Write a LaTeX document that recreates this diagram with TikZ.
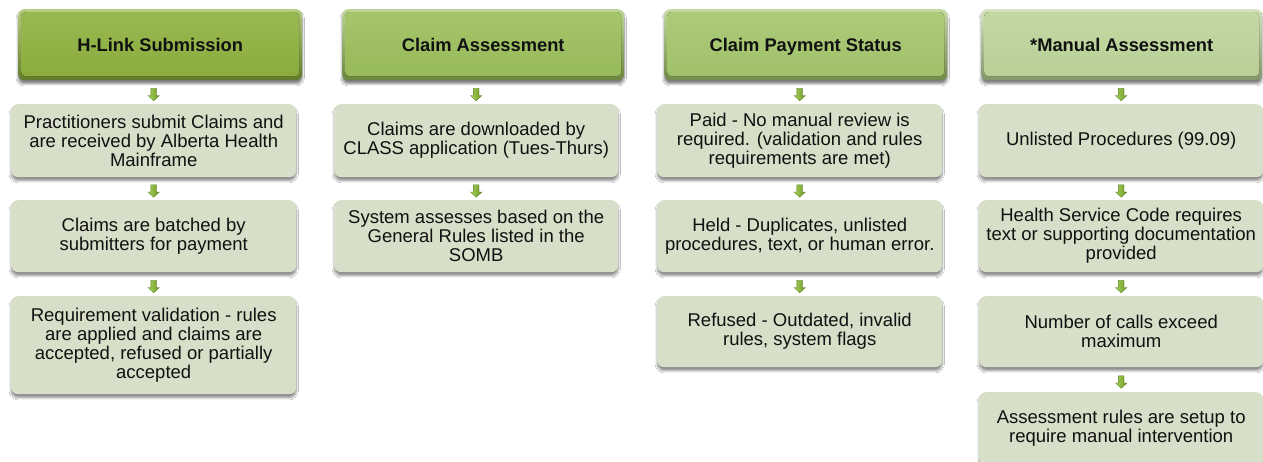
\documentclass[tikz,border=0pt]{standalone}
\usepackage{fontspec}
\setmainfont{Liberation Sans}
\usetikzlibrary{shapes.arrows,shadows.blur,calc}

\definecolor{hdA}{HTML}{8DB13E}
\definecolor{hdB}{HTML}{9BBF5B}
\definecolor{hdC}{HTML}{A4C66C}
\definecolor{hdD}{HTML}{BDD59A}
\definecolor{boxfill}{HTML}{D7DFC8}
\definecolor{arrdark}{HTML}{6A9628}
\definecolor{arrlight}{HTML}{A8D255}
\definecolor{ink}{HTML}{111111}

\tikzset{
  header/.style={
    rounded corners=6pt, anchor=north west, inner sep=0pt,
    minimum height=71pt, text=ink, text height=13pt, text depth=0pt,
    font=\fontsize{18.3}{20}\selectfont\bfseries,
    top color=#1!65!white, bottom color=#1!70!black,
    blur shadow={shadow xshift=0pt, shadow yshift=-3.5pt,
                 shadow blur steps=8, shadow opacity=50},
    path picture={
      \fill[top color=#1!90!white, bottom color=#1!97!black, rounded corners=4pt]
        ([shift={(3pt,-3pt)}]path picture bounding box.north west) rectangle
        ([shift={(-3pt,4pt)}]path picture bounding box.south east);
    }
  },
  stepbox/.style={
    rounded corners=7pt, anchor=north west, inner sep=2pt,
    fill=boxfill, align=center, text=ink,
    font=\fontsize{18.5}{19}\selectfont,
    blur shadow={shadow xshift=0pt, shadow yshift=-3.5pt,
                 shadow blur steps=8, shadow opacity=45}
  },
  downarr/.style={
    single arrow, shape border rotate=270, draw=arrdark!80!black, line width=0.3pt,
    inner sep=2.7pt, minimum width=11pt, minimum height=12.5pt,
    single arrow head extend=2.8pt, single arrow tip angle=95,
    left color=arrlight, right color=arrdark
  }
}

\begin{document}
\begin{tikzpicture}[x=1pt,y=-1pt]
\fill[white] (0,0) rectangle (1263,462);
\useasboundingbox (0,0) rectangle (1263,462);

% H-Link Submission column
\node[header=hdA, minimum width=284pt] (h1) at (18,9) {H-Link Submission};
\node[stepbox, minimum width=285pt, minimum height=73pt] (b11) at (11,104)
  {Practitioners submit Claims and\\are received by Alberta Health\\Mainframe};
\node[stepbox, minimum width=285pt, minimum height=72pt] (b12) at (11,200)
  {Claims are batched by\\submitters for payment};
\node[stepbox, minimum width=285pt, minimum height=98pt] (b13) at (11,296)
  {Requirement validation - rules\\are applied and claims are\\accepted, refused or partially\\accepted};

% Claim Assessment column
\node[header=hdB, minimum width=282pt] (h2) at (342,9) {Claim Assessment};
\node[stepbox, minimum width=284pt, minimum height=73pt] (b21) at (334,104)
  {Claims are downloaded by\\CLASS application (Tues-Thurs)};
\node[stepbox, minimum width=284pt, minimum height=72pt] (b22) at (334,200)
  {System assesses based on the\\General Rules listed in the\\SOMB};

% Claim Payment Status column
\node[header=hdC, minimum width=283pt] (h3) at (664,9) {Claim Payment Status};
\node[stepbox, minimum width=285pt, minimum height=73pt] (b31) at (657,104)
  {Paid - No manual review is\\required. (validation and rules\\requirements are met)};
\node[stepbox, minimum width=285pt, minimum height=72pt] (b32) at (657,200)
  {Held - Duplicates, unlisted\\procedures, text, or human error.};
\node[stepbox, minimum width=285pt, minimum height=71pt] (b33) at (657,296)
  {Refused - Outdated, invalid\\rules, system flags};

% Manual Assessment column
\node[header=hdD, minimum width=281pt] (h4) at (981,9) {*Manual Assessment};
\node[stepbox, minimum width=284pt, minimum height=73pt] (b41) at (979,104)
  {Unlisted Procedures (99.09)};
\node[stepbox, minimum width=284pt, minimum height=72pt] (b42) at (979,200)
  {Health Service Code requires\\text or supporting documentation\\provided};
\node[stepbox, minimum width=284pt, minimum height=71pt] (b43) at (979,296)
  {Number of calls exceed\\maximum};
\node[stepbox, minimum width=284pt, minimum height=73pt] (b44) at (979,392)
  {Assessment rules are setup to\\require manual intervention};

% small block arrows between consecutive steps
\foreach \a/\b in {h1/b11, b11/b12, b12/b13,
                   h2/b21, b21/b22,
                   h3/b31, b31/b32, b32/b33,
                   h4/b41, b41/b42, b42/b43, b43/b44}
  \node[downarr] at ($(\b.north)!0.5!(\a.south -| \b.north)+(0,1)$) {};
\end{tikzpicture}
\end{document}
